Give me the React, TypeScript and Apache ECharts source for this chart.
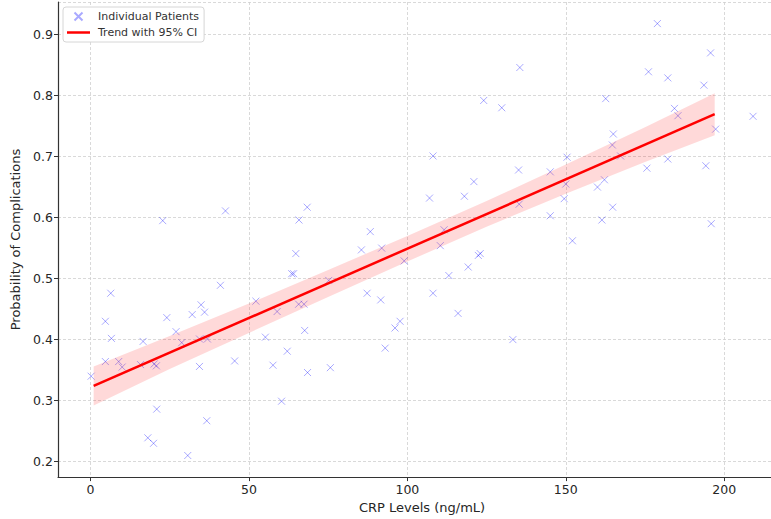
import React, { useEffect, useRef } from "react";
import * as echarts from "echarts";

// CRP levels (ng/mL) of individual patients
const crpLevels = [
  0.2, 4.7, 6.4, 6.6, 4.7, 8.9, 10.0, 16.6, 15.8, 20.1,
  20.8, 20.9, 18.1, 19.9, 24.1, 27.0, 28.8, 32.1, 34.9, 36.0,
  34.4, 36.9, 34.4, 36.7, 30.7, 41.0, 45.5, 52.2, 55.2, 58.9,
  57.6, 60.3, 62.1, 63.5, 64.1, 64.8, 65.7, 67.4, 67.6, 68.5,
  22.8, 42.6, 65.8, 68.4, 88.3, 85.5, 91.9, 108.1, 107.0, 118.0,
  121.0, 124.1, 129.8, 135.5, 135.1, 135.3, 111.6, 110.4, 123.0, 122.4,
  99.0, 119.2, 113.1, 75.2, 75.7, 87.3, 91.6, 108.1, 116.0, 96.1,
  97.7, 93.0, 133.3, 178.9, 195.7, 176.1, 182.2, 193.6, 162.6, 184.3,
  185.4, 209.1, 197.3, 165.0, 164.7, 167.3, 150.4, 182.2, 175.6, 194.2,
  145.1, 150.0, 162.2, 160.0, 149.5, 164.8, 145.1, 161.4, 195.9, 152.1,
];

// Probability of complications of the same patients
const complicationProb = [
  0.340, 0.430, 0.476, 0.402, 0.364, 0.364, 0.355, 0.397, 0.359, 0.360,
  0.357, 0.286, 0.239, 0.230, 0.436, 0.413, 0.395, 0.441, 0.457, 0.445,
  0.401, 0.401, 0.356, 0.267, 0.210, 0.489, 0.365, 0.463, 0.404, 0.446,
  0.358, 0.299, 0.381, 0.508, 0.508, 0.541, 0.458, 0.458, 0.415, 0.346,
  0.595, 0.611, 0.596, 0.617, 0.577, 0.547, 0.550, 0.701, 0.632, 0.635,
  0.659, 0.792, 0.780, 0.846, 0.678, 0.622, 0.580, 0.554, 0.541, 0.538,
  0.529, 0.519, 0.505, 0.497, 0.354, 0.476, 0.465, 0.476, 0.443, 0.419,
  0.430, 0.386, 0.400, 0.918, 0.870, 0.839, 0.829, 0.817, 0.795, 0.779,
  0.767, 0.766, 0.745, 0.737, 0.719, 0.701, 0.699, 0.696, 0.681, 0.685,
  0.675, 0.655, 0.662, 0.650, 0.631, 0.617, 0.603, 0.596, 0.590, 0.562,
];

// Trend line end points
const trendX = [1, 197];
const trendY = [0.324, 0.7695];

// 95% confidence band
const bandX = [1, 25, 50, 75, 100, 125, 150, 175, 197];
const bandLower = [0.292, 0.352, 0.411, 0.470, 0.528, 0.585, 0.639, 0.691, 0.735];
const bandUpper = [0.356, 0.406, 0.459, 0.514, 0.570, 0.627, 0.687, 0.748, 0.804];

const xTickStep = 50;
const yTickStep = 0.1;

const FONT = "DejaVu Sans";

export default function App() {
  const ref = useRef<HTMLDivElement>(null);

  useEffect(() => {
    if (!ref.current) return;
    const chart = echarts.init(ref.current, undefined, { renderer: "svg" });

    const scatterData = crpLevels.map((x, i) => [x, complicationProb[i]]);
    const trendData = trendX.map((x, i) => [x, trendY[i]]);

    const markerColor = "rgba(0,0,255,0.42)";

    chart.setOption({
      animation: false,
      backgroundColor: "#ffffff",
      grid: { left: 58, right: 0, top: 2, bottom: 35, containLabel: false },
      legend: {
        data: [
          { name: "Individual Patients", icon: "path://M0,0L10,10M0,10L10,0" },
          { name: "Trend with 95% CI", icon: "path://M0,0L23,0L23,2.5L0,2.5Z" },
        ],
        orient: "vertical",
        left: 63,
        top: 7,
        itemWidth: 23,
        itemHeight: 8,
        itemGap: 5,
        symbolKeepAspect: true,
        backgroundColor: "#ffffff",
        borderColor: "#d6d6d6",
        borderWidth: 1,
        borderRadius: 3,
        padding: [4, 5, 4, 4],
        textStyle: { fontFamily: FONT, fontSize: 11, color: "#333", padding: [0, 0, 0, 3] },
      },
      xAxis: {
        type: "value",
        min: -10.25,
        max: 219.5,
        minInterval: xTickStep,
        maxInterval: xTickStep,
        name: "CRP Levels (ng/mL)",
        nameLocation: "middle",
        nameGap: 23,
        nameTextStyle: { fontFamily: FONT, fontSize: 13, color: "#262626" },
        axisLine: { show: true, onZero: false, lineStyle: { color: "#333", width: 1.2 } },
        axisTick: { show: true, length: 4, lineStyle: { color: "#333", width: 1 } },
        axisLabel: {
          showMinLabel: false,
          showMaxLabel: false,
          fontFamily: FONT,
          fontSize: 12.5,
          color: "#262626",
          margin: 6,
        },
        splitLine: { show: true, lineStyle: { color: "#cfcfcf", width: 0.8, type: [3, 2] } },
      },
      yAxis: {
        type: "value",
        min: 0.1746,
        max: 0.9534,
        minInterval: yTickStep,
        maxInterval: yTickStep,
        name: "Probability of Complications",
        nameLocation: "middle",
        nameGap: 23,
        nameTextStyle: { fontFamily: FONT, fontSize: 13, color: "#262626" },
        axisLine: { show: true, onZero: false, lineStyle: { color: "#333", width: 1.2 } },
        axisTick: { show: true, length: 4, lineStyle: { color: "#333", width: 1 } },
        axisLabel: {
          showMinLabel: false,
          showMaxLabel: false,
          fontFamily: FONT,
          fontSize: 12.5,
          color: "#262626",
          margin: 5,
          formatter: (v: number) => v.toFixed(1),
        },
        splitLine: { show: true, lineStyle: { color: "#cfcfcf", width: 0.8, type: [3, 2] } },
      },
      series: [
        {
          name: "Individual Patients",
          type: "scatter",
          z: 2,
          data: scatterData,
          symbol: "path://M0,0L10,10M0,10L10,0",
          symbolSize: 7,
          symbolKeepAspect: true,
          itemStyle: { color: "rgba(0,0,0,0)", borderColor: markerColor, borderWidth: 1 },
          emphasis: { disabled: true },
        },
        {
          name: "95% CI",
          type: "custom",
          z: 3,
          silent: true,
          data: [[bandX[0], bandLower[0]]],
          renderItem: (params: any, api: any) => {
            const upper = bandX.map((x, i) => api.coord([x, bandUpper[i]]));
            const lower = bandX.map((x, i) => api.coord([x, bandLower[i]])).reverse();
            return {
              type: "polygon",
              shape: { points: upper.concat(lower) },
              style: { fill: "rgba(255,0,0,0.15)", stroke: "none" },
            };
          },
        },
        {
          name: "Trend with 95% CI",
          type: "line",
          z: 4,
          data: trendData,
          symbol: "none",
          showSymbol: false,
          lineStyle: { color: "#ff0000", width: 2.5 },
          itemStyle: { color: "#ff0000" },
          emphasis: { disabled: true },
        },
      ],
    });

    return () => chart.dispose();
  }, []);

  return (
    <div
      ref={ref}
      style={{ position: "fixed", left: 0, top: 0, width: 786, height: 519, background: "#fff" }}
    />
  );
}
